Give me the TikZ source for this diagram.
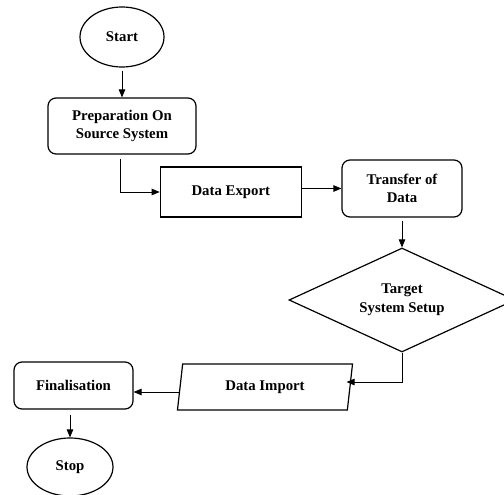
\documentclass[tikz,border=0pt]{standalone}
\usepackage{fontspec}
\setmainfont{Liberation Serif}
\usepackage{tikz}
\usetikzlibrary{calc}
\usetikzlibrary{positioning}
\usetikzlibrary{shapes.geometric}
\usetikzlibrary{arrows.meta}

\begin{document}
\begin{tikzpicture}[x=1pt, y=-1pt,
  >={Triangle[length=8pt,width=6.5pt]},
  every node/.style={font=\fontsize{14.8}{18.5}\selectfont\bfseries, align=center, inner sep=0pt},
  term/.style={draw, line width=1.2pt, ellipse, minimum width=84pt, minimum height=60pt},
  proc/.style={draw, line width=1.2pt, rounded corners=8pt, minimum width=#1, minimum height=56pt},
  plainbox/.style={draw, line width=1.2pt, minimum width=141pt, minimum height=50pt},
  decide/.style={draw, line width=1.2pt, diamond, aspect=2.15, minimum width=226pt, minimum height=104pt},
  io/.style={draw, line width=1.2pt, trapezium, trapezium left angle=79, trapezium right angle=101,
    trapezium stretches=true, minimum width=176pt, minimum height=46pt},
  conn/.style={->, line width=0.8pt}]
\useasboundingbox (0,0) rectangle (504,495);
\node[term] (start) at (122,37) {Start};
\node[proc=148pt] (prep) at (122,126) {Preparation On\\Source System};
\node[plainbox] (export) at (230.8,192) {Data Export};
\node[proc=120pt, minimum height=57pt] (transfer) at (402,188.5) {Transfer of\\Data};
\node[decide] (target) at (402,300) {Target\\System Setup};
\node[io] (import) at (265,387) {Data Import};
\node[proc=119pt, minimum height=47pt] (final) at (73.5,385.5) {Finalisation};
\node[term, minimum width=86pt, minimum height=58pt] (stop) at (70,467) {Stop};
\draw[conn] ([yshift=-3pt]start.south) -- (prep.north);
\draw[conn] ([xshift=-2pt,yshift=-4pt]prep.south) |- (export.west);
\draw[conn] (export.east |- transfer.west) -- (transfer.west);
\draw[conn] ([yshift=-3pt]transfer.south) -- (target.north);
\draw[conn] (target.south) |- ([xshift=-4pt,yshift=5pt]import.east);
\draw[conn] ([yshift=-5pt]import.west) -- ([yshift=-5pt]import.west -| final.east);
\draw[conn] ([xshift=-3.5pt,yshift=-5pt]final.south) -- ([xshift=-3.5pt]final.south |- stop.north);
\end{tikzpicture}
\end{document}
